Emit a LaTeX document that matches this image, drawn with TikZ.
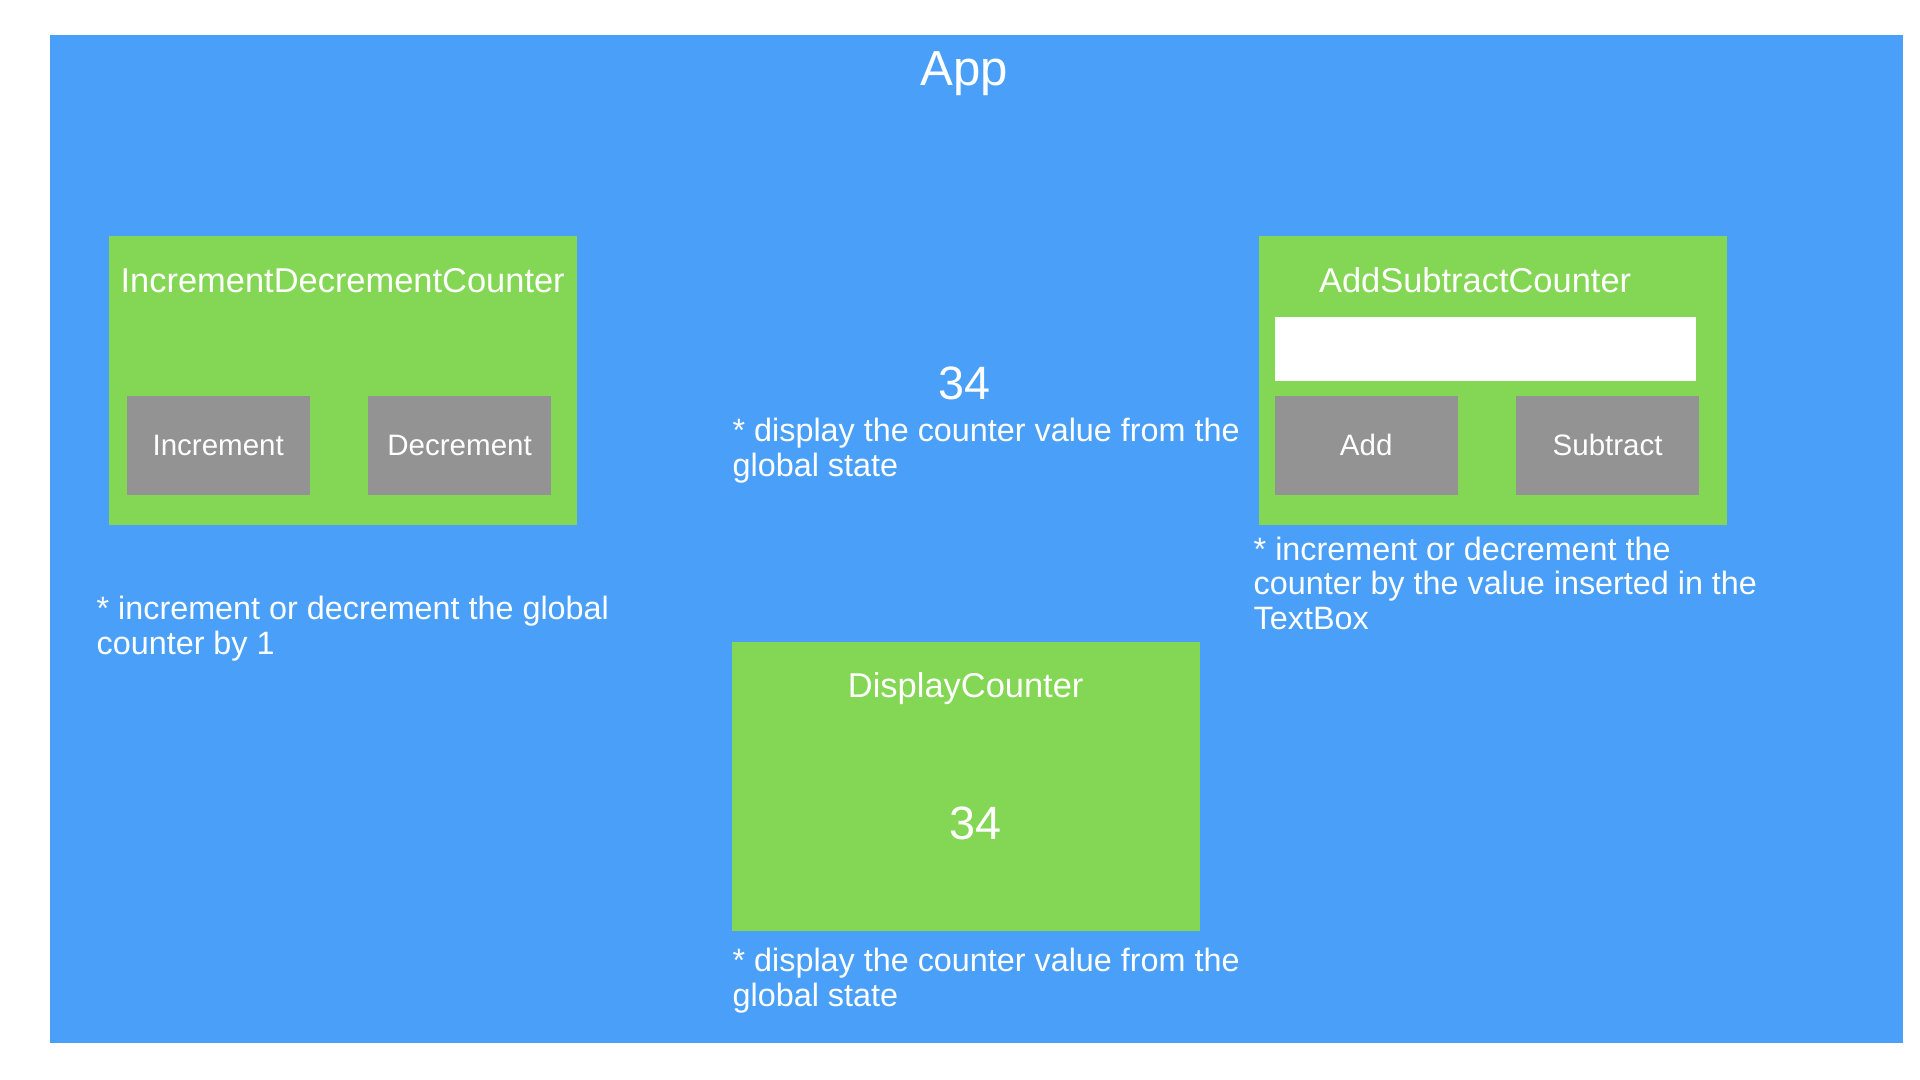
\documentclass[tikz,border=0pt]{standalone}
\usepackage{fontspec}
\setmainfont{Liberation Sans}
\usepackage{xcolor}
\usetikzlibrary{positioning,calc}
\definecolor{appblue}{RGB}{74,160,249}
\definecolor{compgreen}{RGB}{132,215,84}
\definecolor{btngray}{RGB}{147,147,147}

\tikzset{
	comp/.style={fill=compgreen,minimum width=4.68cm,minimum height=2.89cm,inner sep=0pt},
	btn/.style={fill=btngray,text=white,minimum width=1.83cm,minimum height=0.99cm,inner sep=0pt,font=\fontsize{8.4}{10}\selectfont},
	ctitle/.style={text=white,inner sep=0pt,anchor=base,font=\fontsize{9.8}{11}\selectfont},
	note/.style={text=white,inner sep=0pt,align=left,anchor=base west,font=\fontsize{9.2}{9.7}\selectfont},
	bignum/.style={text=white,inner sep=0pt,anchor=base,font=\fontsize{13.3}{15}\selectfont},
}

\begin{document}
\begin{tikzpicture}
		\useasboundingbox (0,0) rectangle (19.2,-10.8);
		\node[fill=appblue,minimum width=18.53cm,minimum height=10.08cm,inner sep=0pt,anchor=north west] (app) at (0.49,-0.34) {};
		\node[bignum,font=\fontsize{14}{16}\selectfont] (apptitle) at (9.64,-0.86) {App};
		
		% notes: base west sits on the last line
		\node[comp,anchor=north west] (idc) at (1.08,-2.35) {};
		\node[ctitle,shift={(0,-0.58)}] (idctitle) at (idc.north) {IncrementDecrementCounter};
		\node[btn,anchor=north west] (inc) at (1.26,-3.95) {Increment};
		\node[btn,right=0.57cm of inc] (dec) {Decrement};
		\node[note] (idcnote) at (0.96,-6.54) {* increment or decrement the global\\counter by 1};
		
		\node[bignum] (midval) at (9.64,-4.00) {34};
		\node[note] (midnote) at (7.32,-4.76) {* display the counter value from the\\global state};
		
		\node[comp,right=6.81cm of idc] (asc) {};
		\node[ctitle,shift={(-0.18,-0.58)}] (asctitle) at (asc.north) {AddSubtractCounter};
		\node[fill=white,minimum width=4.21cm,minimum height=0.64cm,inner sep=0pt,anchor=north west] (textbox) at (12.74,-3.16) {};
		\node[btn,anchor=north west] (add) at (12.74,-3.95) {Add};
		\node[btn,right=0.57cm of add] (sub) {Subtract};
		\node[note] (ascnote) at (12.53,-6.29) {* increment or decrement the\\counter by the value inserted in the\\TextBox};
		
		\node[comp,anchor=north west] (disp) at (7.31,-6.41) {};
		\node[ctitle,shift={(0,-0.56)}] (disptitle) at (disp.north) {DisplayCounter};
		\node[bignum] (dispval) at (9.75,-8.39) {34};
		\node[note] (dispnote) at (7.32,-10.06) {* display the counter value from the\\global state};
	\end{tikzpicture}
\end{document}
